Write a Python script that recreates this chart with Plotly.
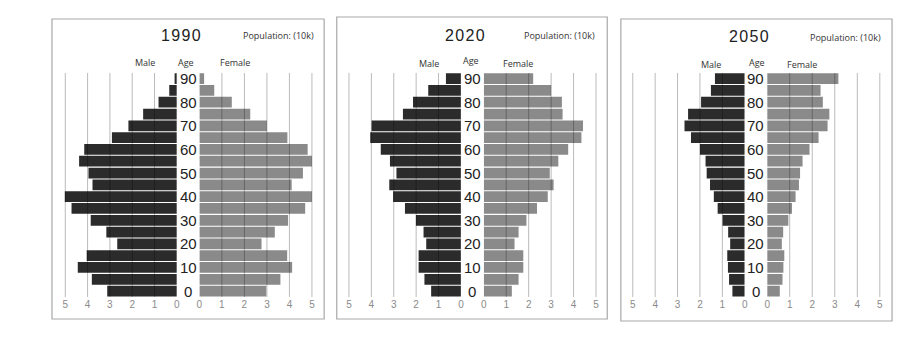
import plotly.graph_objects as go

W, H = 901, 337

ages = [0, 5, 10, 15, 20, 25, 30, 35, 40, 45, 50, 55, 60, 65, 70, 75, 80, 85, 90]
age_labels = [0, 10, 20, 30, 40, 50, 60, 70, 80, 90]
years = ["1990", "2020", "2050"]
tick_values = [0, 1, 2, 3, 4, 5]

# values listed from age 0 up to age 90 (population, 10k)
male_1990 = [3.12, 3.81, 4.44, 4.04, 2.67, 3.16, 3.86, 4.72, 5.02, 3.78, 3.96, 4.38, 4.15, 2.91, 2.17, 1.51, 0.82, 0.34, 0.1]
female_1990 = [2.97, 3.6, 4.12, 3.9, 2.76, 3.35, 3.94, 4.7, 5.0, 4.1, 4.6, 5.0, 4.81, 3.91, 3.0, 2.26, 1.44, 0.66, 0.21]
male_2020 = [1.33, 1.63, 1.89, 1.89, 1.55, 1.67, 2.01, 2.5, 3.03, 3.2, 2.88, 3.17, 3.58, 4.05, 3.99, 2.59, 2.14, 1.46, 0.67]
female_2020 = [1.25, 1.55, 1.76, 1.76, 1.37, 1.55, 1.9, 2.37, 2.85, 3.11, 2.94, 3.32, 3.76, 4.35, 4.42, 3.51, 3.48, 3.0, 2.2]
male_2050 = [0.55, 0.7, 0.75, 0.78, 0.65, 0.74, 0.99, 1.21, 1.38, 1.55, 1.7, 1.75, 2.0, 2.4, 2.69, 2.53, 1.95, 1.51, 1.33]
female_2050 = [0.56, 0.68, 0.72, 0.76, 0.65, 0.71, 0.94, 1.1, 1.26, 1.41, 1.46, 1.57, 1.88, 2.28, 2.68, 2.76, 2.47, 2.37, 3.16]

males = [male_1990, male_2020, male_2050]
females = [female_1990, female_2020, female_2050]

# layout geometry (pixels)
male_zero = [175.0, 461.0, 746.7]
female_zero = [197.7, 484.0, 769.3]
male_ppu = [22.46, 22.54, 22.54]
female_ppu = [22.66, 22.6, 22.68]
xmax = 5.1
plot_top, plot_bot = 72.7, 297.0
panel_boxes = [(49.3, 19.0, 323.3, 319.0), (336.0, 17.0, 608.3, 319.0), (622.0, 19.0, 895.0, 321.0)]
title_pos = [(179.0, 35.5), (465.0, 35.5), (751.0, 36.0)]
pop_pos = [(277.0, 35.0), (560.0, 35.5), (848.5, 37.5)]
male_lbl = [(142.5, 62.3), (429.0, 63.3), (713.0, 64.3)]
age_lbl = [(184.0, 62.0), (471.0, 60.0), (759.5, 62.3)]
female_lbl = [(233.7, 62.0), (518.0, 63.0), (804.0, 64.0)]

MALE_C = "#2b2b2b"
FEMALE_C = "#8a8a8a"

def px(x):
    return x / W

def py(y):
    return 1 - y / H

fig = go.Figure()
layout = dict(
    width=W, height=H, margin=dict(l=0, r=0, t=0, b=0),
    paper_bgcolor="white", plot_bgcolor="rgba(0,0,0,0)",
    showlegend=False, barmode="overlay",
)
shapes = []
annotations = []

for i in range(3):
    xm = 2 * i + 1
    xf = 2 * i + 2
    yi = i + 1
    xm_name = "x" if xm == 1 else f"x{xm}"
    xf_name = f"x{xf}"
    y_name = "y" if yi == 1 else f"y{yi}"
    fig.add_trace(go.Bar(x=males[i], y=ages, orientation="h", width=4.55,
                         marker=dict(color=MALE_C, line=dict(width=0)),
                         xaxis=xm_name, yaxis=y_name))
    fig.add_trace(go.Bar(x=females[i], y=ages, orientation="h", width=4.55,
                         marker=dict(color=FEMALE_C, line=dict(width=0)),
                         xaxis=xf_name, yaxis=y_name))
    axcommon = dict(tickvals=tick_values, ticktext=[str(v) for v in tick_values],
                    showgrid=False, zeroline=False, showline=False, ticks="",
                    tickfont=dict(family="Liberation Sans, Arial", size=10, color="#8a8a8a"),
                    anchor=y_name, fixedrange=True)
    mdom = [px(male_zero[i] - xmax * male_ppu[i]), px(male_zero[i])]
    fdom = [px(female_zero[i]), px(female_zero[i] + xmax * female_ppu[i])]
    layout["xaxis" if xm == 1 else f"xaxis{xm}"] = dict(domain=mdom, range=[xmax, 0], **axcommon)
    layout[f"xaxis{xf}"] = dict(domain=fdom, range=[0, xmax], **axcommon)
    layout["yaxis" if yi == 1 else f"yaxis{yi}"] = dict(
        domain=[py(plot_bot), py(plot_top)], range=[-2.5, 92.5], visible=False,
        anchor=xm_name, fixedrange=True)
    # gridlines over bars
    for v in tick_values[1:]:
        for xn in (xm_name, xf_name):
            shapes.append(dict(type="line", xref=xn, yref=y_name, x0=v, x1=v, y0=-2.5, y1=92.5,
                               line=dict(color="rgba(0,0,0,0.27)", width=1), layer="above"))
    # panel border
    x0, y0, x1, y1 = panel_boxes[i]
    shapes.append(dict(type="rect", xref="paper", yref="paper", x0=px(x0), x1=px(x1),
                       y0=py(y1), y1=py(y0), line=dict(color="#a8a8a8", width=1.2),
                       fillcolor="rgba(0,0,0,0)", layer="below"))
    # texts
    tx, ty = title_pos[i]
    annotations.append(dict(text="\u200a".join(years[i]), x=px(tx), y=py(ty), xref="paper", yref="paper",
                            showarrow=False, xanchor="center", yanchor="middle",
                            font=dict(family="Liberation Sans, Arial", size=16, color="#222")))
    tx, ty = pop_pos[i]
    annotations.append(dict(text="Population: (10k)", x=px(tx), y=py(ty), xref="paper", yref="paper",
                            showarrow=False, xanchor="center", yanchor="middle",
                            font=dict(family="Open Sans", size=9, color="#333")))
    for (tx, ty), t in ((male_lbl[i], "Male"), (age_lbl[i], "Age"), (female_lbl[i], "Female")):
        annotations.append(dict(text=t, x=px(tx), y=py(ty), xref="paper", yref="paper",
                                showarrow=False, xanchor="center", yanchor="middle",
                                font=dict(family="Open Sans", size=9, color="#333")))
    cx = (male_zero[i] + female_zero[i]) / 2
    for a in age_labels:
        annotations.append(dict(text=str(a), x=px(cx), y=a, xref="paper", yref=y_name,
                                showarrow=False, xanchor="center", yanchor="middle",
                                font=dict(family="Liberation Sans Narrow, Liberation Sans, Arial", size=15, color="#222")))

layout["shapes"] = shapes
layout["annotations"] = annotations
fig.update_layout(**layout)
fig.write_html("out.html")
